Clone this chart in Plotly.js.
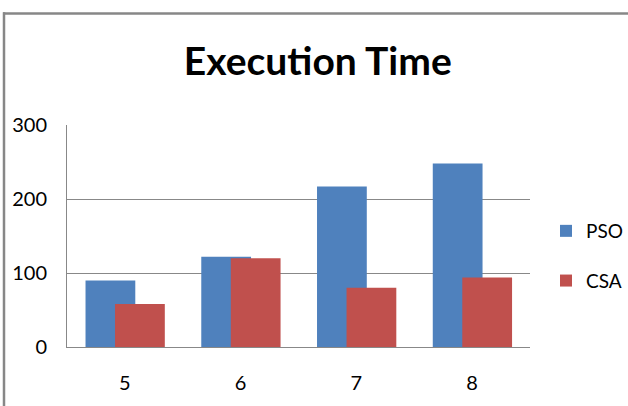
<!DOCTYPE html>
<html>
<head>
<meta charset="utf-8">
<script src="https://cdn.plot.ly/plotly-3.0.1.min.js"></script>
<style>html,body{margin:0;padding:0;background:#fff;} #chart{width:628px;height:406px;}</style>
</head>
<body>
<div id="chart"></div>
<script>
const categories = ['5', '6', '7', '8'];
const psoValues = [90, 122, 217, 248];
const csaValues = [58, 120, 80, 94];
const seriesNames = ['PSO', 'CSA'];
const yTicks = [0, 100, 200, 300];

const W = 628, H = 406;
const mL = 67, mR = 98, mT = 125, mB = 59;
const pw = W - mL - mR, ph = H - mT - mB;
const px = x => (x - mL) / pw;
const py = y => 1 - (y - mT) / ph;

const font = 'Lato, "Open Sans", sans-serif';

const traces = [
  {type: 'bar', name: seriesNames[0], x: categories, y: psoValues,
   width: 0.43, offset: -0.34, marker: {color: '#4F81BD'}, legendgroup: 'a', hoverinfo: 'none'},
  {type: 'bar', name: seriesNames[1], x: categories, y: csaValues,
   width: 0.43, offset: -0.085, marker: {color: '#C0504D'}, legendgroup: 'b', hoverinfo: 'none'}
];

const layout = {
  width: W, height: H,
  margin: {l: mL, r: mR, t: mT, b: mB, pad: 0, autoexpand: false},
  paper_bgcolor: '#fff', plot_bgcolor: '#fff',
  barmode: 'overlay',
  font: {family: font, color: '#000', size: 20},
  title: {text: '<b>Execution Time</b>', font: {family: font, size: 39, color: '#000'},
          x: 0.506, xanchor: 'center', y: 0.848, yanchor: 'middle'},
  xaxis: {type: 'category', showgrid: false, showline: true, linecolor: '#888', linewidth: 1,
          ticks: '', ticklabelstandoff: 18, tickfont: {size: 20}, fixedrange: true, automargin: false},
  yaxis: {range: [0, 300], tickvals: yTicks, showgrid: true, gridcolor: '#888', gridwidth: 1,
          showline: true, linecolor: '#888', linewidth: 1, zeroline: false,
          ticks: '', ticklabelstandoff: 15, tickfont: {size: 20}, fixedrange: true, automargin: false},
  legend: {xref: 'container', yref: 'container', x: 546 / W, y: 1 - 212 / H, xanchor: 'left', yanchor: 'top',
           traceorder: 'grouped', tracegroupgap: 22, font: {size: 19}, bgcolor: 'rgba(0,0,0,0)', itemwidth: 30},
  shapes: [
    {type: 'line', xref: 'paper', yref: 'paper', x0: px(3), x1: px(628), y0: py(13.5), y1: py(13.5),
     line: {color: '#878787', width: 2.5}},
    {type: 'line', xref: 'paper', yref: 'paper', x0: px(4), x1: px(4), y0: py(12.3), y1: py(406),
     line: {color: '#878787', width: 2.5}}
  ]
};

Plotly.newPlot('chart', traces, layout, {displayModeBar: false, staticPlot: true});
</script>
</body>
</html>
